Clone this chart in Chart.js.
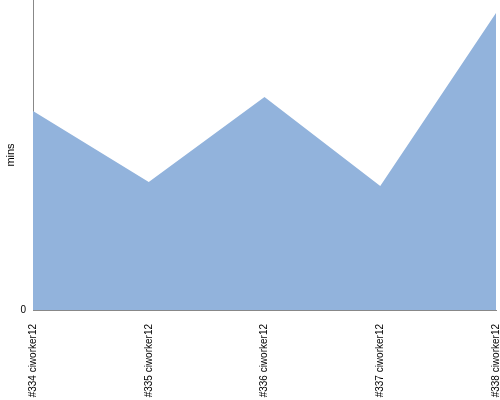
<!DOCTYPE html>
<html>
<head>
<meta charset="utf-8">
<script src="https://cdn.jsdelivr.net/npm/chart.js@4"></script>
<style>
  html,body{margin:0;padding:0;background:#fff;}
  #wrap{width:500px;height:400px;}
</style>
</head>
<body>
<div id="wrap"><canvas id="chart" width="500" height="400"></canvas></div>
<script>
// Data
const builds=['#334 ciworker12','#335 ciworker12','#336 ciworker12','#337 ciworker12','#338 ciworker12'];
const durations=[19.9,12.8,21.3,12.4,29.7];
const yTicks=[0];
const yMax=31;

const ctx=document.getElementById('chart').getContext('2d');
const chart=new Chart(ctx,{
  type:'line',
  data:{
    labels:builds,
    datasets:[{ data:durations, fill:'origin', backgroundColor:'#92b3dc', borderWidth:0, pointRadius:0, tension:0 }]
  },
  options:{
    responsive:false, animation:false,
    layout:{padding:{top:0,right:4,left:0,bottom:0}},
    plugins:{legend:{display:false},tooltip:{enabled:false}},
    scales:{
      x:{
        offset:false,
        grid:{display:false,drawTicks:false},
        border:{color:'#888',width:1},
        ticks:{minRotation:90,maxRotation:90,color:'#000',padding:14,font:{family:'Liberation Sans',size:10}},
        afterFit:s=>{s.height=90;s.paddingLeft=0;s.paddingRight=0;}
      },
      y:{
        min:0,max:yMax,
        grid:{display:false,drawTicks:true,tickLength:3},
        border:{color:'#888',width:1},
        afterBuildTicks:s=>{s.ticks=yTicks.map(v=>({value:v}));},
        ticks:{color:'#000',padding:4,font:{family:'Liberation Sans',size:10}},
        title:{display:true,text:'mins',color:'#000',padding:{top:4,bottom:0},font:{family:'Liberation Sans',size:11}},
        afterFit:s=>{s.width=33;s.paddingTop=0;s.paddingBottom=0;}
      }
    }
  }
});
</script>
</body>
</html>
